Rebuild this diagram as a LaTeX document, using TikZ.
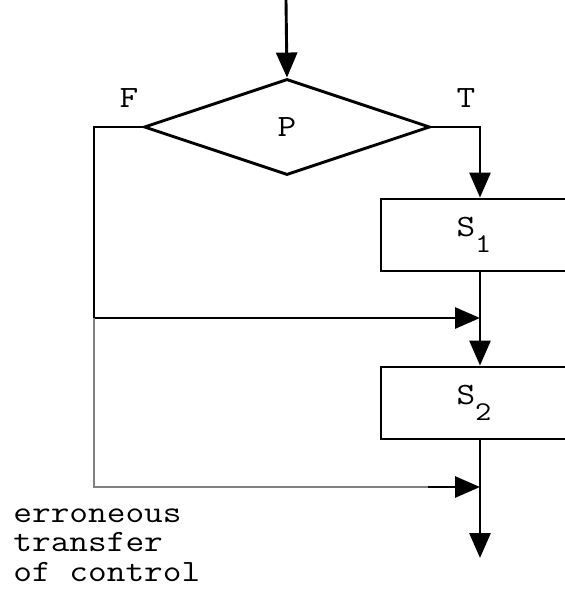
\documentclass[tikz,border=0pt]{standalone}
\usepackage{fontspec}
\setmonofont[FakeStretch=1.17]{Latin Modern Mono}
\usetikzlibrary{arrows.meta,shapes.geometric}
\definecolor{errgray}{gray}{0.5}

\begin{document}
\begin{tikzpicture}[x=1pt,y=-1pt,
  line width=2.9pt,
  flow/.style={-{Triangle[length=25pt,width=21pt]}},
  stmt/.style={draw, rectangle, inner sep=0pt, minimum width=186pt, minimum height=72pt,
               font=\fontsize{31}{31}\ttfamily},
  decide/.style={draw, diamond, inner sep=0pt, minimum width=286pt, minimum height=96pt,
                 aspect=2.98, font=\fontsize{31}{31}\ttfamily},
  lbl/.style={inner sep=0pt, font=\fontsize{31}{29.5}\ttfamily}]

\useasboundingbox (0,0) rectangle (565,590);
\clip (0,0) rectangle (565,590);

% decision and statement blocks
\node[decide] (P) at (287,127) {P};
\node[stmt] (S1) at (474,235) {S\raisebox{-16pt}{\fontsize{27}{27}\selectfont 1}};
\node[stmt] (S2) at (474,403) {S\raisebox{-16pt}{\fontsize{27}{27}\selectfont 2}};

% branch labels
\node[lbl] (F) at (129,98) {F};
\node[lbl] (T) at (466,98) {T};
\node[lbl, anchor=base west, align=left] (err) at (12,581)
  {erroneous\\transfer\\of control};

% routing points
\coordinate (top) at (286,0);
\coordinate (tr) at (480,127);
\coordinate (tl) at (94,127);
\coordinate (l1) at (94,318);
\coordinate (j1) at (480,318);
\coordinate (l2) at (94,487);
\coordinate (g)  at (428,487);
\coordinate (j2) at (480,487);
\coordinate (out) at (480,558);

% normal flow
\draw[flow] (top) -- (P.north);
\draw[flow] (P.east) -- (tr) -- (tr |- S1.north);
\draw (P.west) -- (tl) -- (l1);
\draw[flow] (l1) -- (j1);
\draw[flow] (S1.south -| j1) -- (S2.north -| j1);
\draw[flow] (S2.south -| j2) -- (out);

% erroneous transfer of control
\draw[errgray, line join=miter] (l1) -- (l2) -- (g);
\draw[flow] (g) -- (j2);
\end{tikzpicture}
\end{document}
